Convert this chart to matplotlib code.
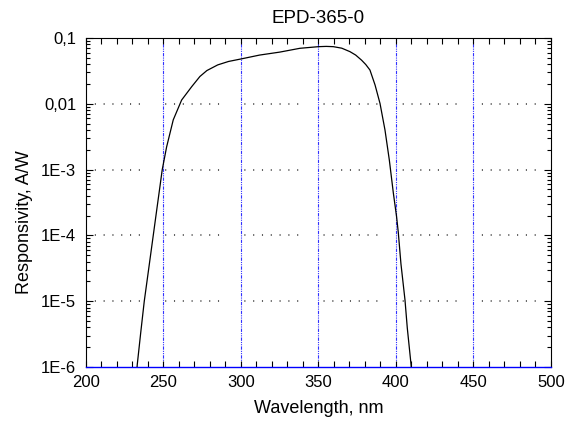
import matplotlib
matplotlib.use('Agg')
import matplotlib.pyplot as plt
from matplotlib.ticker import FixedLocator, FixedFormatter, MultipleLocator, LogLocator, NullFormatter

plt.rcParams['font.family'] = ['Liberation Sans', 'DejaVu Sans']
plt.rcParams['font.size'] = 12

# Spectral responsivity
wavelength = [232.5, 233.1, 235.3, 237.6, 240.2, 243.4, 245.6, 247.7, 249.2,
              252.0, 256.3, 261.7, 268.2, 273.5, 278.0, 285.0, 292.0, 300.0, 312.0, 325.0,
              338.0, 350.0, 355.0, 359.6, 365.0, 370.3, 374.0, 377.8, 380.5, 383.2,
              386.5, 389.7, 392.9, 395.7, 398.3, 400.4, 401.5, 403.2, 405.8, 407.3,
              409.7, 410.3]
responsivity = [7.5e-7, 1.1e-6, 3.3e-6, 1.0e-5, 2.8e-5, 1.0e-4, 2.4e-4, 5.5e-4, 1.0e-3,
                2.2e-3, 5.7e-3, 1.14e-2, 1.82e-2, 2.6e-2, 3.2e-2, 3.9e-2, 4.4e-2, 4.8e-2, 5.5e-2, 6.1e-2,
                6.97e-2, 7.38e-2, 7.45e-2, 7.38e-2, 7.0e-2, 6.2e-2, 5.5e-2, 4.6e-2, 3.95e-2, 3.26e-2,
                1.93e-2, 1.01e-2, 4.0e-3, 1.4e-3, 4.4e-4, 1.91e-4, 1.1e-4, 3.7e-5, 1.05e-5, 3.9e-6,
                1.1e-6, 7.5e-7]

y_ticks = [1e-6, 1e-5, 1e-4, 1e-3, 1e-2, 1e-1]
y_tick_labels = ['1E-6', '1E-5', '1E-4', '1E-3', '0,01', '0,1']
x_ticks = [200, 250, 300, 350, 400, 450, 500]
x_grid = [250, 300, 350, 400, 450]
y_grid = [1e-5, 1e-4, 1e-3, 1e-2]

fig = plt.figure(figsize=(5.74, 4.23), dpi=100)
ax = fig.add_axes([0.1498, 0.1324, 0.8101, 0.7778])

ax.set_yscale('log')
ax.set_xlim(200, 500)
ax.set_ylim(1e-6, 1e-1)

# grid lines
dot = 0.72
gap = 5.04
for v in y_grid:
    ax.axhline(v, color='#333333', lw=1.1, dashes=[dot, gap] * 6 + [dot, gap + 11.5], zorder=1)
for v in x_grid:
    ax.axvline(v, color='#3333ff', lw=0.8, dashes=[3, 1, 1, 1, 1, 1], zorder=1)

ax.plot(wavelength, responsivity, color='black', lw=0.9, zorder=3)

ax.xaxis.set_major_locator(FixedLocator(x_ticks))
ax.xaxis.set_minor_locator(MultipleLocator(10))
ax.yaxis.set_major_locator(FixedLocator(y_ticks))
ax.yaxis.set_major_formatter(FixedFormatter(y_tick_labels))
ax.yaxis.set_minor_locator(LogLocator(base=10, subs=range(2, 10)))
ax.yaxis.set_minor_formatter(NullFormatter())

ax.tick_params(axis='both', which='both', direction='in', top=True, right=True, width=0.8)
ax.tick_params(axis='x', which='both', length=4)
ax.tick_params(axis='x', which='major', pad=6)
ax.tick_params(axis='y', which='major', length=5, pad=7)
ax.tick_params(axis='y', which='minor', length=3)

# bottom ticks blue, top ticks black
for t in ax.xaxis.get_major_ticks() + ax.xaxis.get_minor_ticks():
    t.tick1line.set_color('#0000ff')

for s in ax.spines.values():
    s.set_linewidth(0.8)
ax.spines['bottom'].set_color('#0000ff')
ax.spines['bottom'].set_linewidth(1.0)

ax.set_title('EPD-365-0', fontsize=13.5, pad=11)
ax.set_xlabel('Wavelength, nm', fontsize=13, labelpad=7)
ax.set_ylabel('Responsivity, A/W', fontsize=13, labelpad=6)
ax.yaxis.label.set_y(0.44)

fig.savefig('out.png', dpi=100)
